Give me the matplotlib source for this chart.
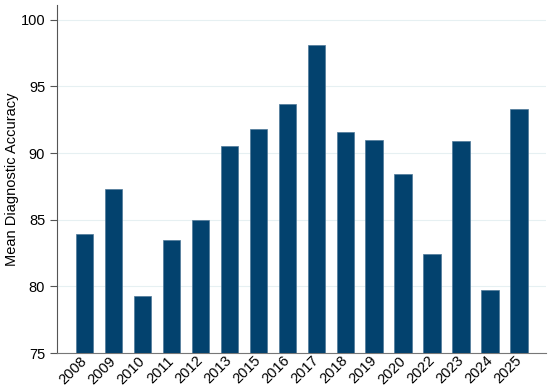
import numpy as np
import matplotlib
matplotlib.use("Agg")
import matplotlib.pyplot as plt

# Données
annees = ["2008", "2009", "2010", "2011", "2012", "2013", "2015", "2016",
          "2017", "2018", "2019", "2020", "2022", "2023", "2024", "2025"]
precision = [83.9, 87.3, 79.3, 83.5, 85.0, 90.5, 91.8, 93.7,
             98.1, 91.6, 91.0, 88.4, 82.4, 90.9, 79.7, 93.3]
graduations_y = [75, 80, 85, 90, 95, 100]

plt.rcParams['font.family'] = ['Liberation Sans', 'DejaVu Sans']

fig = plt.figure(figsize=(5.5, 3.89), dpi=100)
ax = fig.add_axes([0.1036, 0.0925, 0.889, 0.8945])

x = np.arange(len(annees))
ax.bar(x, precision, width=0.6, color='#03426e', edgecolor='#4f7898', linewidth=0.5,
       zorder=3)

ax.set_ylim(75, 101.1)
ax.set_xlim(-0.95, len(annees) - 0.07)
ax.set_yticks(graduations_y)
ax.set_yticklabels([str(v) for v in graduations_y], fontsize=10.5)
ax.set_xticks(x)
ax.set_xticklabels(annees, rotation=45, ha='right', va='center',
                   rotation_mode='anchor', fontsize=10.5)
ax.tick_params(axis='x', length=0, pad=4)
ax.tick_params(axis='y', length=5, width=0.8, color='#555555')

ax.grid(True, axis='y', color='#e6f0f2', linewidth=0.8, zorder=0)
ax.spines['top'].set_visible(False)
ax.spines['right'].set_visible(False)
ax.spines['left'].set_color('#555555')
ax.spines['bottom'].set_color('#777777')

ax.set_ylabel("Mean Diagnostic Accuracy", fontsize=10.5, labelpad=1)

fig.savefig("out.png", dpi=100)
